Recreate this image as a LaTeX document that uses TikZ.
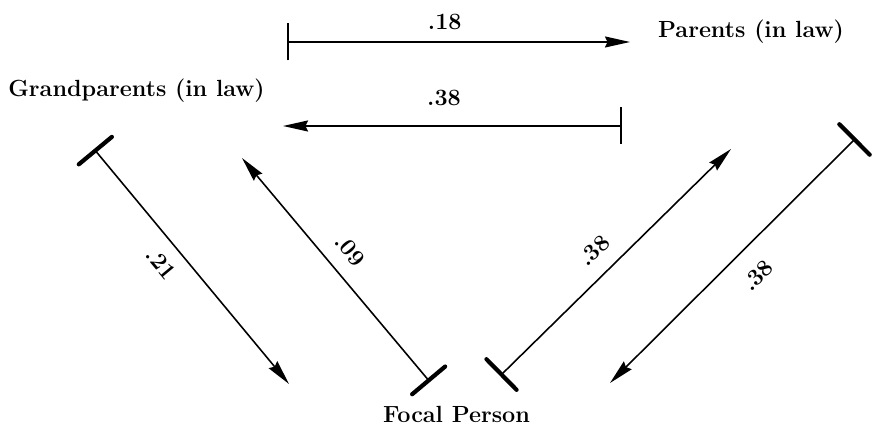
\documentclass[tikz,border=0pt]{standalone}
\usepackage{xcolor}
\usepackage{tikz}
\usetikzlibrary{positioning,arrows.meta}

\begin{document}
\begin{tikzpicture}[
  who/.style={font=\fontsize{13.3}{16}\selectfont\bfseries, inner sep=0pt, anchor=base},
  num/.style={font=\fontsize{13.3}{16}\selectfont\bfseries},
  arrow/.style={{Bar[width=0.74cm]}-{Stealth[length=0.5cm, width=0.22cm, inset=0.05cm]}, line width=0.9pt},
  tie/.style={{Bar[width=0.86cm, line width=2.4pt, round]}-{Stealth[length=0.5cm, width=0.22cm, inset=0.05cm]}, line width=0.9pt}
]
\useasboundingbox (0,0) rectangle (17.5,8.64);

\node[who] (grand) at (2.73,6.70) {Grandparents (in law)};
\node[who] (parents) at (15.02,7.88) {Parents (in law)};
\node[who] (focal) at (9.13,0.18) {Focal Person};

% arrow ends
\coordinate (gp1) at (5.74,7.80);  \coordinate (pa1) at (12.60,7.80);
\coordinate (pa2) at (12.44,6.12); \coordinate (gp2) at (5.66,6.12);
\coordinate (gp3) at (1.88,5.66);  \coordinate (fo3) at (5.78,0.96);
\coordinate (fo4) at (8.60,1.00);  \coordinate (gp4) at (4.84,5.48);
\coordinate (fo5) at (10.00,1.12); \coordinate (pa5) at (14.62,5.66);
\coordinate (pa6) at (17.12,5.88); \coordinate (fo6) at (12.20,0.98);

\draw[arrow] (gp1) -- node[num, above=0.12cm, pos=0.46] (r18) {.18} (pa1);
\draw[arrow] (pa2) -- node[num, above=0.28cm, pos=0.525] (r38a) {.38} (gp2);
\draw[tie] (gp3) -- node[num, sloped, below=0.15cm, pos=0.43] (r21) {.21} (fo3);
\draw[tie] (fo4) -- node[num, sloped, above=0.18cm, pos=0.52] (r09) {.09} (gp4);
\draw[tie] (fo5) -- node[num, sloped, above=0.18cm, pos=0.48] (r38b) {.38} (pa5);
\draw[tie] (pa6) -- node[num, sloped, below=0.28cm, pos=0.48] (r38c) {.38} (fo6);

\end{tikzpicture}
\end{document}
